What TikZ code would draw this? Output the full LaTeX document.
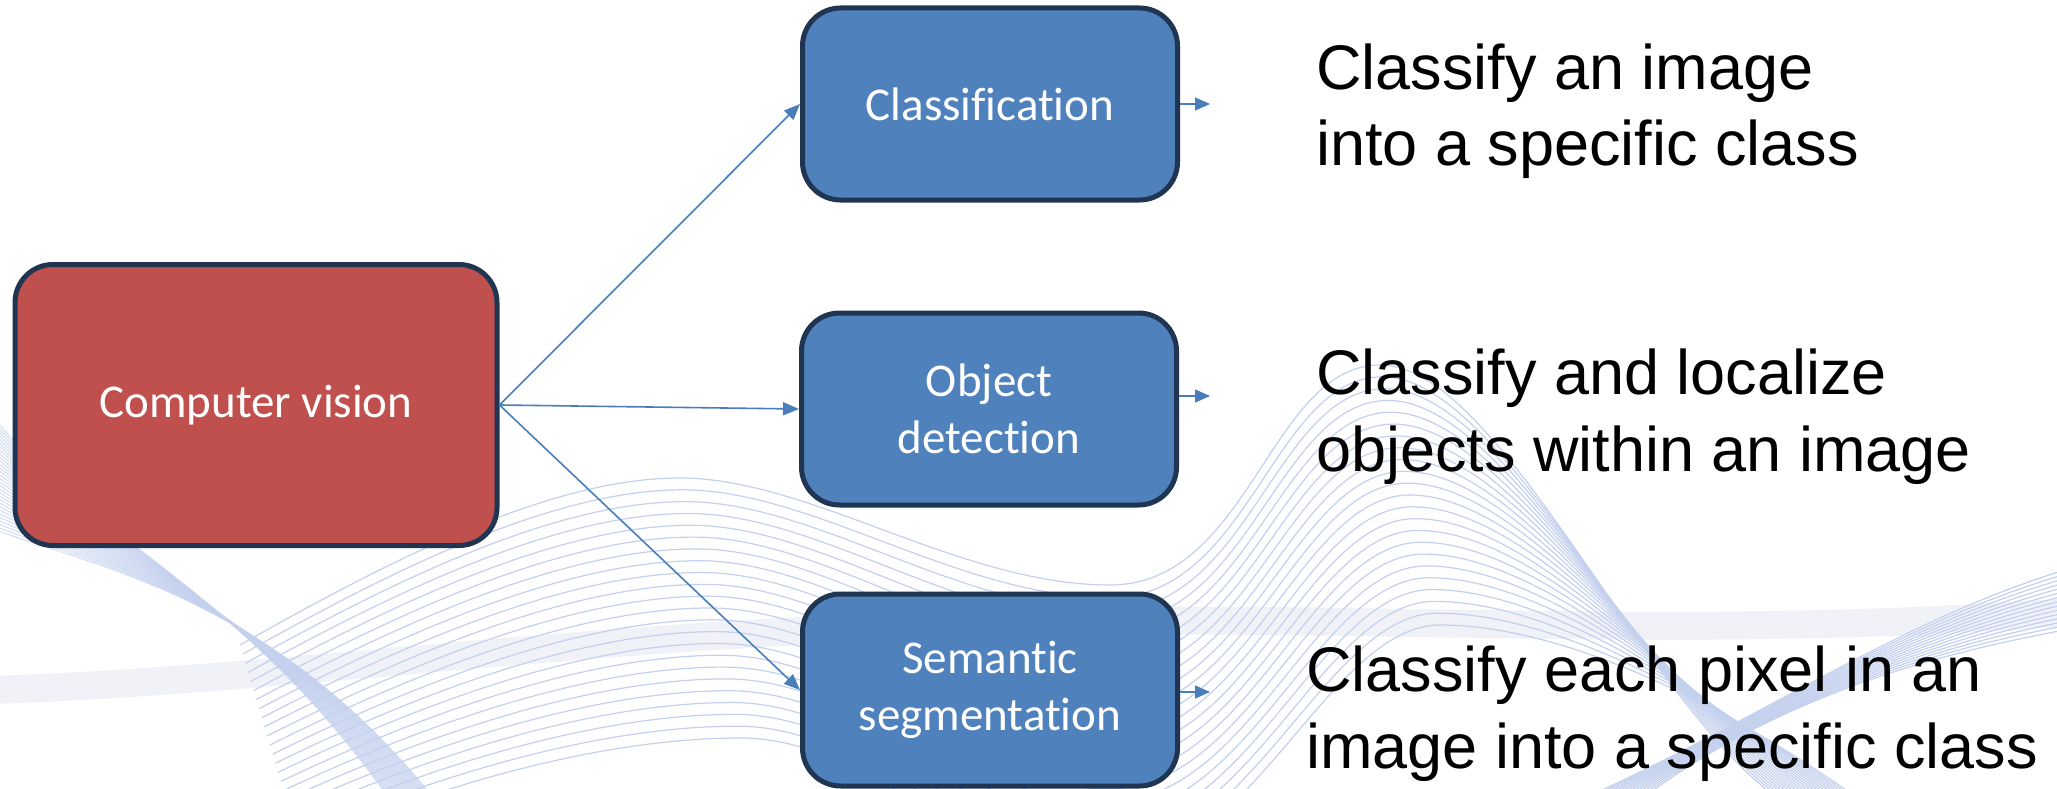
\documentclass[tikz,border=0pt]{standalone}
\usepackage{fontspec}
\usetikzlibrary{arrows.meta}
\newfontfamily\calib[Ligatures={NoCommon,NoContextual}]{Carlito}
\newfontfamily\arialf[Ligatures=NoCommon]{Liberation Sans}
\definecolor{boxred}{HTML}{C0504D}
\definecolor{boxblue}{HTML}{4F81BD}
\definecolor{boxline}{HTML}{1F3552}
\definecolor{arrowblue}{HTML}{4A7EBB}
\definecolor{wave}{HTML}{C3D0EE}
\definecolor{band}{HTML}{F0F2F8}
\tikzset{
  box/.style={draw=boxline, line width=5pt, rounded corners=38pt, inner sep=0pt,
    text=white, align=center, font=\calib\fontsize{47}{57}\selectfont},
  redbox/.style={box, fill=boxred, minimum width=482pt, minimum height=281pt},
  bluebox/.style={box, fill=boxblue, minimum width=375pt, minimum height=192pt},
  conn/.style={draw=arrowblue, line width=1.6pt, -{Triangle[length=16pt,width=13pt]}},
  outarrow/.style={draw=arrowblue, line width=1.6pt, -{Triangle[length=15pt,width=13pt]}},
  desc/.style={font=\arialf\fontsize{63}{77}\selectfont, align=left, inner sep=0pt, text=black},
  waveline/.style={draw=wave, line width=1.2pt},
  strand/.style={draw=wave, line width=1.1pt, opacity=0.7},
}
\begin{document}
\begin{tikzpicture}[x=1pt,y=-1pt]
\useasboundingbox (0,0) rectangle (2057,789);
\fill[white] (0,0) rectangle (2057,789);
% decorative background
\begin{scope}
\clip (0,0) rectangle (2057,789);
\draw[band, line width=28pt] (-10,690) .. controls (300,680) and (600,630) .. (1050,622)
   .. controls (1400,615) and (1700,640) .. (2070,612);
\foreach \i in {0,...,22}{
  \pgfmathsetmacro{\s}{\i/22}
  \draw[waveline] ({240+60*\s},{645+200*\s})
    .. controls ({390+60*\s},{560+220*\s}) and ({550+60*\s},{478+260*\s}) .. ({680+60*\s},{478+260*\s})
    .. controls ({810+60*\s},{478+260*\s}) and (960,{585+280*\s}) .. (1110,{585+280*\s})
    .. controls (1250,{585+280*\s}) and ({1270+60*\s},{365+260*\s}) .. ({1380+60*\s},{365+260*\s})
    .. controls ({1500+60*\s},{365+260*\s}) and ({1640+80*\s},700) .. ({1780+80*\s},800);
}
\foreach \i in {0,...,14}{
  \pgfmathsetmacro{\s}{\i/14}
  \draw[waveline] ({1580+60*\s},800) .. controls (1760,{720-10*\s}) and (1900,{620+40*\s}) .. (2065,{570+60*\s});
}
\foreach \i in {0,...,30}{
  \pgfmathsetmacro{\s}{\i/30}
  \draw[strand] (-5,{420+110*\s}) .. controls (110,{550+20*\s}) and ({250+30*\s},{600+5*\s}) .. ({390+45*\s},800);
}
\end{scope}
% boxes
\node[redbox] (cv) at (256,405) {Computer vision};
\node[bluebox] (cls) at (990,104) {Classification};
\node[bluebox] (obj) at (989,409) {Object\\detection};
\node[bluebox] (sem) at (990,690) {Semantic\\segmentation};
% connectors
\draw[conn] (cv.east) -- (cls.west);
\draw[conn] (cv.east) -- (obj.west);
\draw[conn] (cv.east) -- (sem.west);
\coordinate (clsout) at (1210,104);
\coordinate (objout) at (1210,396);
\coordinate (semout) at (1210,692);
\draw[outarrow] (cls.east |- clsout) -- (clsout);
\draw[outarrow] (obj.east |- objout) -- (objout);
\draw[outarrow] (sem.east |- semout) -- (semout);
% descriptions (anchor at baseline of the last line)
\node[desc, anchor=base west] (d1) at (1316,166) {Classify an image\\into a specific class};
\node[desc, anchor=base west] (d2) at (1316,471) {Classify and localize\\objects within an image};
\node[desc, anchor=base west] (d3) at (1306,768) {Classify each pixel in an\\image into a specific class};
\end{tikzpicture}
\end{document}
